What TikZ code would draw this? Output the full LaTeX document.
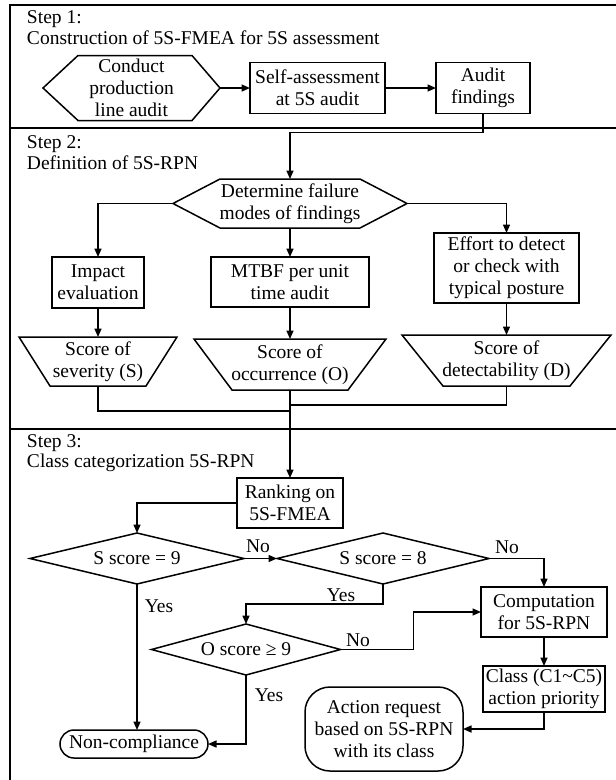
\documentclass[tikz,border=0pt]{standalone}
\usepackage{fontspec}
\setmainfont{Liberation Serif}
\usetikzlibrary{arrows.meta,shapes.geometric,calc}
\begin{document}
\begin{tikzpicture}[x=1pt,y=-1pt,
  font=\fontsize{19.5}{22}\selectfont,
  every node/.style={inner sep=0pt, outer sep=0pt},
  ln/.style={line width=1.5pt},
  arr/.style={line width=1.5pt,-{Triangle[length=8.5pt,width=7pt]}},
  box/.style={draw, line width=1.5pt, align=center},
  plain/.style={align=center},
  dia/.style={draw, diamond, aspect=4, line width=1.5pt, align=center},
  steplbl/.style={align=left, anchor=west, font=\fontsize{19.5}{20.5}\selectfont},
  frame/.style={line width=1.6pt}
]
\useasboundingbox (0,0) rectangle (616,780);
\clip (0,0) rectangle (616,780);

% frame and dividers
\draw[frame] (10,5) rectangle (640,800);
\draw[frame] (10,128) -- (640,128);
\draw[frame] (10,429) -- (640,429);

% step labels
\node[steplbl] (st1) at (27,27.5) {Step 1:\\Construction of 5S-FMEA for 5S assessment};
\node[steplbl] (st2) at (27,152.5) {Step 2:\\Definition of 5S-RPN};
\node[steplbl] (st3) at (27,453) {Step 3:\\Class categorization 5S-RPN};

% Step 1
\node[plain, minimum width=177, minimum height=65] (hex) at (131.5,88) {Conduct\\production\\line audit};
\draw[ln] (hex.west) -- ($(hex.north west)+(35,0)$) -- ($(hex.north east)+(-28,0)$) -- (hex.east)
  -- ($(hex.south east)+(-28,0)$) -- ($(hex.south west)+(35,0)$) -- cycle;
\node[box, minimum width=135, minimum height=51] (self) at (317.5,88) {Self-assessment\\at 5S audit};
\node[box, minimum width=94, minimum height=51] (audit) at (483,88) {Audit\\findings};

% Step 2
\node[plain, minimum width=234, minimum height=49] (det) at (290,203.5) {Determine failure\\modes of findings};
\draw[ln] (det.west) -- ($(det.north west)+(47,0)$) -- ($(det.north east)+(-47,0)$) -- (det.east)
  -- ($(det.south east)+(-47,0)$) -- ($(det.south west)+(47,0)$) -- cycle;
\node[box, minimum width=92, minimum height=51] (impact) at (98,282.5) {Impact\\evaluation};
\node[box, minimum width=158, minimum height=50] (mtbf) at (290,282) {MTBF per unit\\time audit};
\node[box, minimum width=145, minimum height=70] (effort) at (506.5,268) {Effort to detect\\or check with\\typical posture};

\node[plain, minimum width=158, minimum height=49] (sev) at (98,361.5) {Score of\\severity (S)};
\draw[ln] (sev.north west) -- (sev.north east) -- ($(sev.south east)+(-31,0)$) -- ($(sev.south west)+(31,0)$) -- cycle;
\node[plain, minimum width=192, minimum height=51] (occ) at (290,364.5) {Score of\\occurrence (O)};
\draw[ln] (occ.north west) -- (occ.north east) -- ($(occ.south east)+(-38,0)$) -- ($(occ.south west)+(38,0)$) -- cycle;
\node[plain, minimum width=209, minimum height=51] (detect) at (506.5,360.5) {Score of\\detectability (D)};
\draw[ln] (detect.north west) -- (detect.north east) -- ($(detect.south east)+(-41,0)$) -- ($(detect.south west)+(41,0)$) -- cycle;

\coordinate (j1) at (290,411);
\coordinate (j2) at (290,405);

% Step 3
\node[box, minimum width=106, minimum height=50] (rank) at (290,503) {Ranking on\\5S-FMEA};
\node[dia, minimum width=214, minimum height=51] (s9) at (137,558.5) {S score = 9};
\node[dia, minimum width=212, minimum height=51] (s8) at (383,558.5) {S score = 8};
\node[dia, minimum width=189, minimum height=51] (o) at (246,649.5) {O score ≥ 9};
\node[box, minimum width=126, minimum height=50] (comp) at (544,612) {Computation\\for 5S-RPN};
\node[box, minimum width=122, minimum height=46] (class) at (544,689) {Class (C1\textasciitilde C5)\\action priority};
\node[box, rounded corners=14pt, minimum width=148, minimum height=28] (nc) at (134,744) {Non-compliance};
\node[box, rounded corners=25pt, minimum width=158, minimum height=84] (act) at (384,729) {Action request\\based on 5S-RPN\\with its class};

% labels
\node (no1) at (258,546) {No};
\node (no2) at (507,547) {No};
\node (yes1) at (341,595) {Yes};
\node (no3) at (358,640) {No};
\node (yes2) at (159,606) {Yes};
\node (yes3) at (269,695) {Yes};

% connectors
\draw[arr] (hex.east) -- (self.west);
\draw[arr] (self.east) -- (audit.west);
\draw[arr] (audit.south) -- ++(0,19) -| (det.north);
\draw[arr] (det.west) -| (impact.north);
\draw[arr] (det.south) -- (mtbf.north);
\draw[arr] (det.east) -| (effort.north);
\draw[arr] (impact.south) -- (sev.north);
\draw[arr] (mtbf.south) -- (occ.north);
\draw[arr] (effort.south) -- (detect.north);
\draw[ln] (sev.south) |- (j1);
\draw[ln] (detect.south) |- (j2);
\draw[arr] (occ.south) -- (rank.north);
\draw[arr] (rank.west) -| (s9.north);
\draw[arr] (s9.east) -- (s8.west);
\draw[arr] (s8.east) -| (comp.north);
\draw[arr] (s8.south) -- ++(0,20) -| (o.north);
\draw[arr] (o.east) -- ++(73,0) |- (comp.west);
\draw[arr] (s9.south) -- (s9.south |- nc.north);
\draw[arr] (o.south) |- (nc.east);
\draw[arr] (comp.south) -- (class.north);
\draw[arr] (class.south) |- (act.east);
\end{tikzpicture}
\end{document}
